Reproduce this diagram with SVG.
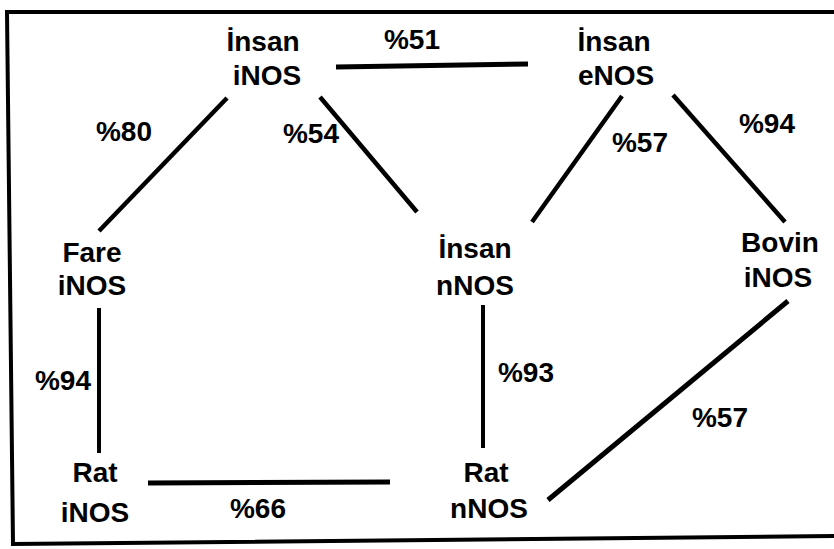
<svg xmlns="http://www.w3.org/2000/svg" width="834" height="549" viewBox="0 0 834 549">
<style>
text{font-family:"Liberation Sans",Arial,sans-serif;font-weight:bold;font-size:28px;fill:#000;text-anchor:middle}
.c line{stroke:#000;stroke-linecap:butt}
.t{stroke-width:5}
.m{stroke-width:4.5}
.v{stroke-width:4}
</style>
<rect width="834" height="549" fill="#fff"/>
<path d="M840,12 L7,12 L13,544 L840,536" fill="none" stroke="#000" stroke-width="4"/>
<g id="connectors" class="c">
<line class="t" x1="336" y1="67" x2="528" y2="64"/>
<line class="m" x1="227" y1="98" x2="99" y2="231"/>
<line class="m" x1="320" y1="97" x2="417" y2="212"/>
<line class="m" x1="622" y1="96" x2="532" y2="222"/>
<line class="m" x1="673" y1="95" x2="785" y2="222"/>
<line class="v" x1="99" y1="308" x2="99" y2="453"/>
<line class="v" x1="483" y1="305" x2="483" y2="448"/>
<line class="t" x1="148" y1="483" x2="390" y2="482"/>
<line class="t" x1="788" y1="301" x2="548" y2="500"/>
</g>
<g id="labels">
<text x="412" y="49">%51</text>
<text x="124" y="141">%80</text>
<text x="311" y="143">%54</text>
<text x="640" y="152">%57</text>
<text x="767" y="133">%94</text>
<text x="63" y="390">%94</text>
<text x="526" y="382">%93</text>
<text x="720" y="427">%57</text>
<text x="258" y="518">%66</text>
</g>
<g id="insan-inos"><text x="263" y="51">İnsan</text><text x="267" y="85">iNOS</text></g>
<g id="insan-enos"><text x="614" y="51">İnsan</text><text x="616" y="85">eNOS</text></g>
<g id="fare-inos"><text x="92" y="262">Fare</text><text x="92" y="295">iNOS</text></g>
<g id="insan-nnos"><text x="475" y="258">İnsan</text><text x="475" y="295">nNOS</text></g>
<g id="bovin-inos"><text x="780" y="252">Bovin</text><text x="778" y="287">iNOS</text></g>
<g id="rat-inos"><text x="95" y="482">Rat</text><text x="95" y="522">iNOS</text></g>
<g id="rat-nnos"><text x="486" y="482">Rat</text><text x="489" y="518">nNOS</text></g>
</svg>
